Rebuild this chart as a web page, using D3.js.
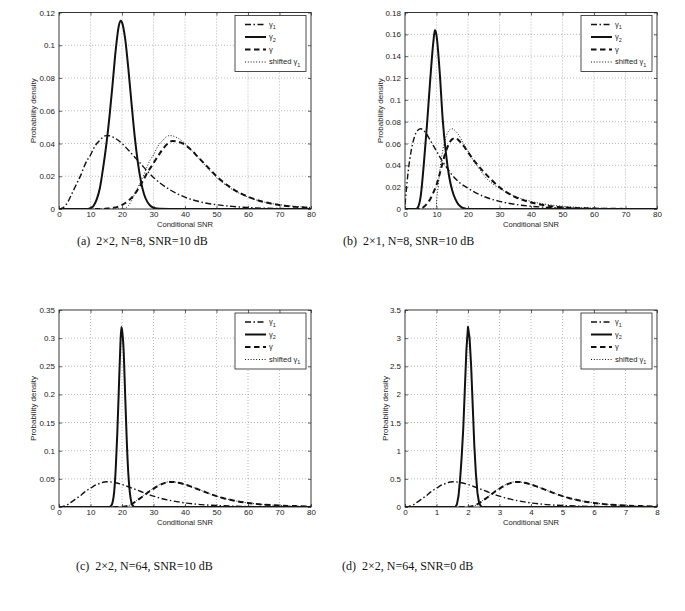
<!DOCTYPE html>
<html><head><meta charset="utf-8">
<script src="https://cdn.jsdelivr.net/npm/d3@7"></script>
<style>body{margin:0;background:#fff}svg{display:block}</style>
</head><body>
<svg id="c" width="685" height="611"></svg>
<script>
// ---------- data ----------
const xTicks10 = [0,10,20,30,40,50,60,70,80];
const xTicks1 = [0,1,2,3,4,5,6,7,8];
const yTicksA = [0,0.02,0.04,0.06,0.08,0.1,0.12];
const yTicksB = [0,0.02,0.04,0.06,0.08,0.1,0.12,0.14,0.16,0.18];
const yTicksC = [0,0.05,0.1,0.15,0.2,0.25,0.3,0.35];
const yTicksD = [0,0.5,1,1.5,2,2.5,3,3.5];
const seriesNames = ["γ1","γ2","γ","shifted γ1"];
const captions = ["(a)  2×2, N=8, SNR=10 dB","(b)  2×1, N=8, SNR=10 dB","(c)  2×2, N=64, SNR=10 dB","(d)  2×2, N=64, SNR=0 dB"];

// panel (a)
const a_g1 = [[0,0],[1,0.0005],[2,0.002],[3,0.005],[4,0.009],[5,0.013],[6,0.017],[7,0.021],[8,0.026],[9,0.030],[10,0.033],[11,0.037],[12,0.040],[13,0.042],[14,0.044],[15,0.0448],[16,0.0447],[17,0.044],[18,0.043],[20,0.040],[22,0.036],[24,0.0318],[26,0.0275],[28,0.0232],[30,0.0193],[32,0.016],[35,0.012],[40,0.0072],[45,0.0043],[50,0.0026],[55,0.0016],[60,0.0009],[65,0.0005],[70,0.0003],[75,0.0002],[80,0.0001]];
const a_g2 = [[0,0],[9,0],[10,0.0005],[11,0.002],[12,0.006],[13,0.013],[14,0.025],[15,0.039],[16,0.056],[17,0.076],[18,0.097],[19,0.112],[19.6,0.115],[20,0.114],[21,0.104],[22,0.086],[23,0.065],[24,0.045],[25,0.029],[26,0.017],[27,0.009],[28,0.0045],[29,0.002],[30,0.0008],[32,0.0001],[35,0],[80,0]];
const a_g = [[0,0],[14,0],[16,0.0005],[18,0.001],[20,0.0025],[22,0.005],[24,0.009],[26,0.015],[28,0.022],[30,0.028],[32,0.034],[34,0.039],[36,0.0415],[38,0.041],[40,0.0392],[42,0.036],[44,0.032],[46,0.028],[48,0.024],[50,0.020],[55,0.0125],[60,0.0075],[65,0.0043],[70,0.0024],[75,0.0013],[80,0.0007]];
const a_sh = [[0,0],[20,0],[21,0.0005],[22,0.002],[23,0.005],[24,0.009],[25,0.013],[26,0.017],[27,0.021],[28,0.026],[29,0.030],[30,0.033],[31,0.037],[32,0.040],[33,0.042],[34,0.044],[35,0.0448],[36,0.0447],[37,0.044],[38,0.043],[40,0.040],[42,0.036],[44,0.0318],[46,0.0275],[48,0.0232],[50,0.0193],[52,0.016],[55,0.012],[60,0.0072],[65,0.0043],[70,0.0026],[75,0.0016],[80,0.0009]];

// panel (b)
const b_g1 = [[0,0.004],[0.5,0.02],[1,0.034],[2,0.054],[3,0.066],[4,0.072],[5,0.0735],[6,0.0715],[7,0.068],[8,0.063],[9,0.058],[10,0.053],[11,0.048],[12,0.043],[13,0.039],[14,0.035],[15,0.031],[17,0.025],[20,0.019],[25,0.0115],[30,0.007],[35,0.0042],[40,0.0025],[45,0.0015],[50,0.0009],[60,0.0003],[70,0.0001],[80,0]];
const b_g2 = [[0,0],[3.5,0],[4,0.001],[5,0.012],[6,0.042],[7,0.078],[8,0.118],[9,0.153],[9.5,0.164],[10,0.159],[11,0.126],[12,0.081],[13,0.051],[14,0.030],[15,0.017],[16,0.009],[17,0.004],[18,0.0015],[19,0.0005],[20,0],[80,0]];
const b_g = [[0,0],[5,0],[6,0.002],[7,0.005],[8,0.009],[9,0.015],[10,0.022],[11,0.032],[12,0.043],[13,0.053],[14,0.060],[15,0.064],[16,0.065],[17,0.063],[18,0.060],[20,0.052],[22,0.044],[25,0.034],[30,0.020],[35,0.011],[40,0.006],[45,0.003],[50,0.0015],[60,0.0004],[70,0.0001],[80,0]];
const b_sh = [[0,0],[9.95,0],[10,0.004],[10.5,0.02],[11,0.034],[12,0.054],[13,0.066],[14,0.072],[15,0.0735],[16,0.0715],[17,0.068],[18,0.063],[19,0.058],[20,0.053],[21,0.048],[22,0.043],[23,0.039],[24,0.035],[25,0.031],[27,0.025],[30,0.019],[35,0.0115],[40,0.007],[45,0.0042],[50,0.0025],[55,0.0015],[60,0.0009],[70,0.0003],[80,0.0001]];

// panel (c)
const c_g1 = [[0,0],[1,0.0005],[2,0.002],[3,0.005],[4,0.009],[5,0.013],[6,0.017],[7,0.021],[8,0.026],[9,0.030],[10,0.033],[11,0.037],[12,0.040],[13,0.042],[14,0.044],[15,0.0448],[16,0.0447],[17,0.044],[18,0.043],[20,0.040],[22,0.036],[24,0.0318],[26,0.0275],[28,0.0232],[30,0.0193],[32,0.016],[35,0.012],[40,0.0072],[45,0.0043],[50,0.0026],[55,0.0016],[60,0.0009],[65,0.0005],[70,0.0003],[75,0.0002],[80,0.0001]];
const c_g2 = [[0,0],[16,0],[16.5,0.002],[17,0.008],[17.5,0.026],[18,0.067],[18.5,0.13],[19,0.21],[19.5,0.29],[19.8,0.32],[20,0.315],[20.5,0.28],[21,0.20],[21.5,0.12],[22,0.06],[22.5,0.025],[23,0.008],[23.5,0.002],[24,0],[80,0]];
const c_g = [[0,0],[18,0],[20,0.0003],[21,0.001],[22,0.0025],[23,0.005],[24,0.0085],[25,0.0125],[26,0.0165],[27,0.0205],[28,0.025],[29,0.029],[30,0.0325],[31,0.036],[32,0.039],[33,0.0415],[34,0.0435],[35,0.0445],[36,0.0446],[37,0.044],[38,0.043],[40,0.040],[42,0.036],[44,0.0318],[46,0.0275],[48,0.0232],[50,0.0193],[52,0.016],[55,0.012],[60,0.0072],[65,0.0043],[70,0.0026],[75,0.0016],[80,0.0009]];
const c_sh = [[0,0],[20,0],[21,0.0005],[22,0.002],[23,0.005],[24,0.009],[25,0.013],[26,0.017],[27,0.021],[28,0.026],[29,0.030],[30,0.033],[31,0.037],[32,0.040],[33,0.042],[34,0.044],[35,0.0448],[36,0.0447],[37,0.044],[38,0.043],[40,0.040],[42,0.036],[44,0.0318],[46,0.0275],[48,0.0232],[50,0.0193],[52,0.016],[55,0.012],[60,0.0072],[65,0.0043],[70,0.0026],[75,0.0016],[80,0.0009]];

// panel (d)
const d_g1 = [[0,0],[0.1,0.005],[0.2,0.02],[0.3,0.05],[0.4,0.09],[0.5,0.13],[0.6,0.17],[0.7,0.21],[0.8,0.26],[0.9,0.30],[1.0,0.33],[1.1,0.37],[1.2,0.40],[1.3,0.42],[1.4,0.44],[1.5,0.448],[1.6,0.447],[1.7,0.44],[1.8,0.43],[2.0,0.40],[2.2,0.36],[2.4,0.318],[2.6,0.275],[2.8,0.232],[3.0,0.193],[3.2,0.16],[3.5,0.12],[4.0,0.072],[4.5,0.043],[5.0,0.026],[5.5,0.016],[6.0,0.009],[6.5,0.005],[7.0,0.003],[7.5,0.002],[8.0,0.001]];
const d_g2 = [[0,0],[1.6,0],[1.65,0.05],[1.7,0.2],[1.75,0.5],[1.8,0.9],[1.85,1.4],[1.9,2.1],[1.95,2.8],[2.0,3.2],[2.05,3.0],[2.1,2.5],[2.15,1.8],[2.2,1.1],[2.25,0.6],[2.3,0.25],[2.35,0.08],[2.4,0.02],[2.45,0],[8,0]];
const d_g = [[0,0],[1.8,0],[2.0,0.003],[2.1,0.01],[2.2,0.025],[2.3,0.05],[2.4,0.085],[2.5,0.125],[2.6,0.165],[2.7,0.205],[2.8,0.25],[2.9,0.29],[3.0,0.325],[3.1,0.36],[3.2,0.39],[3.3,0.415],[3.4,0.435],[3.5,0.445],[3.6,0.446],[3.7,0.44],[3.8,0.43],[4.0,0.40],[4.2,0.36],[4.4,0.318],[4.6,0.275],[4.8,0.232],[5.0,0.193],[5.2,0.16],[5.5,0.12],[6.0,0.072],[6.5,0.043],[7.0,0.026],[7.5,0.016],[8.0,0.009]];
const d_sh = [[0,0],[2.0,0],[2.1,0.005],[2.2,0.02],[2.3,0.05],[2.4,0.09],[2.5,0.13],[2.6,0.17],[2.7,0.21],[2.8,0.26],[2.9,0.30],[3.0,0.33],[3.1,0.37],[3.2,0.40],[3.3,0.42],[3.4,0.44],[3.5,0.448],[3.6,0.447],[3.7,0.44],[3.8,0.43],[4.0,0.40],[4.2,0.36],[4.4,0.318],[4.6,0.275],[4.8,0.232],[5.0,0.193],[5.2,0.16],[5.5,0.12],[6.0,0.072],[6.5,0.043],[7.0,0.026],[7.5,0.016],[8.0,0.009]];

// ---------- layout ----------
const svg = d3.select("#c");
const FONT = "'Liberation Sans', Arial, Helvetica, sans-serif";
const panels = [
  {left:59, top:12.5, w:252, h:196.5, xd:[0,80], yd:[0,0.12], xt:xTicks10, yt:yTicksA, s:[a_g1,a_g2,a_g,a_sh], ylab:33, cap:[77,245], c:captions[0]},
  {left:405, top:12.5, w:252, h:196.5, xd:[0,80], yd:[0,0.18], xt:xTicks10, yt:yTicksB, s:[b_g1,b_g2,b_g,b_sh], ylab:380, cap:[343,245], c:captions[1]},
  {left:59, top:310, w:252, h:197, xd:[0,80], yd:[0,0.35], xt:xTicks10, yt:yTicksC, s:[c_g1,c_g2,c_g,c_sh], ylab:33, cap:[76,570], c:captions[2]},
  {left:405, top:310, w:252, h:197, xd:[0,8], yd:[0,3.5], xt:xTicks1, yt:yTicksD, s:[d_g1,d_g2,d_g,d_sh], ylab:385, cap:[342,570], c:captions[3], linearPeak:true}
];
const styles = [
  {w:1.4, dash:"6,2.5,1.5,2.5"},
  {w:2, dash:null},
  {w:2, dash:"5.5,3.5"},
  {w:1, dash:"1,1.8"}
];
const fmt = d3.format("~g");

panels.forEach(p => {
  const x = d3.scaleLinear().domain(p.xd).range([0,p.w]);
  const y = d3.scaleLinear().domain(p.yd).range([p.h,0]);
  const g = svg.append("g").attr("transform",`translate(${p.left},${p.top})`);

  // grid
  g.append("g").selectAll("line").data(p.xt.slice(1,-1)).join("line")
    .attr("x1",d=>x(d)).attr("x2",d=>x(d)).attr("y1",0).attr("y2",p.h)
    .attr("stroke","#8a8a8a").attr("stroke-width",0.6).attr("stroke-dasharray","1,2");
  g.append("g").selectAll("line").data(p.yt.slice(1,-1)).join("line")
    .attr("y1",d=>y(d)).attr("y2",d=>y(d)).attr("x1",0).attr("x2",p.w)
    .attr("stroke","#8a8a8a").attr("stroke-width",0.6).attr("stroke-dasharray","1,2");

  // curves
  const clipId = "clip"+p.left+"_"+Math.round(p.top);
  g.append("clipPath").attr("id",clipId).append("rect").attr("x",0).attr("y",-2).attr("width",p.w).attr("height",p.h+2);
  p.s.forEach((data,i) => {
    const curve = (p.linearPeak && i===1) ? d3.curveLinear : d3.curveMonotoneX;
    const line = d3.line().x(d=>x(d[0])).y(d=>y(d[1])).curve(curve);
    g.append("path").datum(data).attr("d",line).attr("clip-path",`url(#${clipId})`)
      .attr("fill","none").attr("stroke","#111").attr("stroke-width",styles[i].w)
      .attr("stroke-dasharray",styles[i].dash).attr("stroke-linejoin","round");
  });

  // axes
  g.append("g").attr("transform",`translate(0,${p.h})`)
    .call(d3.axisBottom(x).tickValues(p.xt).tickFormat(fmt).tickSizeInner(-3).tickSizeOuter(0).tickPadding(2));
  g.append("g")
    .call(d3.axisLeft(y).tickValues(p.yt).tickFormat(fmt).tickSizeInner(-3).tickSizeOuter(0).tickPadding(4));
  g.append("g").call(d3.axisTop(x).tickValues(p.xt).tickFormat("").tickSizeInner(-3).tickSizeOuter(0));
  g.append("g").attr("transform",`translate(${p.w},0)`).call(d3.axisRight(y).tickValues(p.yt).tickFormat("").tickSizeInner(-3).tickSizeOuter(0));
  g.selectAll(".domain").remove();
  g.selectAll(".tick line").attr("stroke","#222").attr("stroke-width",0.7);
  g.selectAll(".tick text").attr("font-family",FONT).attr("font-size",8).attr("fill","#222");
  g.append("rect").attr("width",p.w).attr("height",p.h).attr("fill","none").attr("stroke","#222").attr("stroke-width",0.9);

  // labels
  g.append("text").attr("x",p.w/2).attr("y",p.h+18).attr("text-anchor","middle")
    .attr("font-family",FONT).attr("font-size",7.6).attr("fill","#222").text("Conditional SNR");
  svg.append("text").attr("transform",`translate(${p.ylab},${p.top+p.h/2}) rotate(-90)`)
    .attr("text-anchor","middle").attr("dy","0.35em")
    .attr("font-family",FONT).attr("font-size",8).attr("fill","#222").text("Probability density");

  // legend
  const lw = 71, lh = 56;
  const lg = g.append("g").attr("transform",`translate(${p.w-5-lw},3)`);
  lg.append("rect").attr("width",lw).attr("height",lh).attr("fill","#fff").attr("stroke","#222").attr("stroke-width",0.8);
  seriesNames.forEach((nm,i) => {
    const yy = 9 + i*12.5;
    lg.append("line").attr("x1",10).attr("x2",31).attr("y1",yy).attr("y2",yy)
      .attr("stroke","#111").attr("stroke-width",styles[i].w).attr("stroke-dasharray",styles[i].dash);
    const t = lg.append("text").attr("x",34).attr("y",yy).attr("dy","0.32em")
      .attr("font-family",FONT).attr("font-size",7.6).attr("fill","#222");
    if (nm.startsWith("shifted")) { t.append("tspan").text("shifted γ"); t.append("tspan").attr("font-size",5.5).attr("dy",2.5).text("1"); }
    else if (nm.length>1) { t.append("tspan").text("γ"); t.append("tspan").attr("font-size",5.5).attr("dy",2.5).text(nm.slice(1)); }
    else t.text(nm);
  });

  // caption
  svg.append("text").attr("x",p.cap[0]).attr("y",p.cap[1])
    .attr("font-family","'Liberation Serif','Times New Roman',serif").attr("font-size",12).attr("fill","#111")
    .style("white-space","pre").text(p.c);
});
</script>
</body></html>
